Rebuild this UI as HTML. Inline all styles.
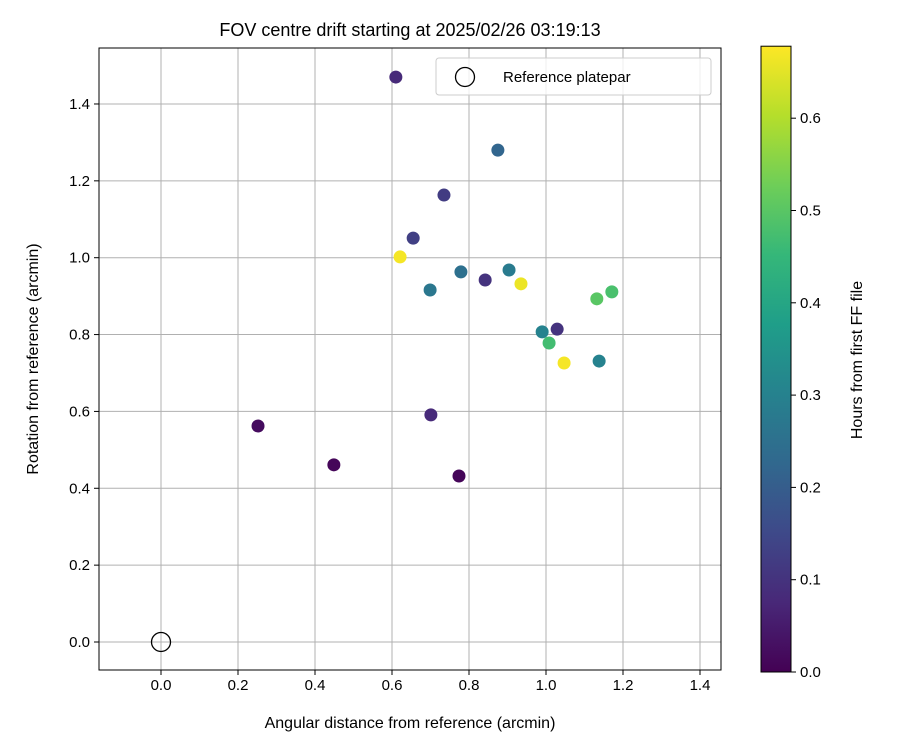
<!DOCTYPE html>
<html><head><meta charset="utf-8"><style>
body{margin:0;background:#fff}
svg text{font-family:"Liberation Sans","DejaVu Sans",sans-serif;fill:#000}
</style></head><body>
<svg id="c" width="900" height="750" xmlns="http://www.w3.org/2000/svg">
<defs><linearGradient id="vg" x1="0" y1="1" x2="0" y2="0">
<stop offset="0" stop-color="#440154"/><stop offset="0.1111" stop-color="#482878"/><stop offset="0.2222" stop-color="#3e4989"/><stop offset="0.3333" stop-color="#31688e"/><stop offset="0.4444" stop-color="#26828e"/><stop offset="0.5556" stop-color="#1f9e89"/><stop offset="0.6667" stop-color="#35b779"/><stop offset="0.7778" stop-color="#6ece58"/><stop offset="0.8889" stop-color="#b5de2b"/><stop offset="1" stop-color="#fde725"/></linearGradient></defs>
</svg>
<script>
const xVals=[0.610,0.875,0.735,0.655,0.621,0.779,0.904,0.699,0.842,0.935,1.132,1.171,0.990,1.029,1.008,1.047,1.138,0.701,0.252,0.449,0.774];
const yVals=[1.470,1.280,1.163,1.051,1.002,0.963,0.968,0.916,0.942,0.932,0.893,0.911,0.807,0.814,0.778,0.726,0.731,0.591,0.562,0.461,0.432];
const hours=[0.08,0.22,0.12,0.13,0.67,0.25,0.28,0.27,0.10,0.66,0.50,0.48,0.30,0.10,0.47,0.67,0.30,0.08,0.02,0.01,0.01];
const xTicks=[0.0,0.2,0.4,0.6,0.8,1.0,1.2,1.4];
const yTicks=[0.0,0.2,0.4,0.6,0.8,1.0,1.2,1.4];
const cTicks=[0.0,0.1,0.2,0.3,0.4,0.5,0.6];
const cMax=0.678;
const L=99,R=721,T=48,B=670;
const xs=v=>161+v*385, ys=v=>642-v*384.3;
const cs=v=>672-v*923;
const NS="http://www.w3.org/2000/svg", svg=document.getElementById('c');
function mk(t,a,p){const e=document.createElementNS(NS,t);for(const k in a)e.setAttribute(k,a[k]);(p||svg).appendChild(e);return e;}
const vir=["#440154","#482878","#3e4989","#31688e","#26828e","#1f9e89","#35b779","#6ece58","#b5de2b","#fde725"];
function hex(h){return [1,3,5].map(i=>parseInt(h.substr(i,2),16));}
function col(v){let t=Math.max(0,Math.min(1,v/cMax))*(vir.length-1);const i=Math.min(vir.length-2,Math.floor(t)),f=t-i;const a=hex(vir[i]),b=hex(vir[i+1]);return `rgb(${a.map((x,k)=>Math.round(x+(b[k]-x)*f)).join(',')})`;}
xTicks.forEach(v=>{const g=mk('line',{x1:xs(v),x2:xs(v),y1:T,y2:B,stroke:'#b0b0b0','stroke-width':1});


const tk=mk('line',{x1:xs(v),x2:xs(v),y1:B,y2:B+5,stroke:'#000'});


const t=mk('text',{x:xs(v),y:B+20,'text-anchor':'middle','font-size':15});t.textContent=v.toFixed(1);

});
yTicks.forEach(v=>{const g=mk('line',{x1:L,x2:R,y1:ys(v),y2:ys(v),stroke:'#b0b0b0','stroke-width':1});


const tk=mk('line',{x1:L-5,x2:L,y1:ys(v),y2:ys(v),stroke:'#000'});


const t=mk('text',{x:L-9,y:ys(v)+5,'text-anchor':'end','font-size':15});t.textContent=v.toFixed(1);

});
xVals.forEach((x,i)=>{const c=mk('circle',{cx:xs(x),cy:ys(yVals[i]),r:6.5,fill:col(hours[i])});

});
const ref=mk('circle',{cx:xs(0),cy:ys(0),r:9.5,fill:'none',stroke:'#000','stroke-width':1.3});


const fr=mk('rect',{x:L,y:T,width:R-L,height:B-T,fill:'none',stroke:'#000','stroke-width':1});


const lg=mk('g',{});


mk('rect',{x:436,y:58,width:275,height:37,rx:3,fill:'#fff','fill-opacity':0.8,stroke:'#ccc'},lg);
mk('circle',{cx:465,cy:77,r:9.5,fill:'none',stroke:'#000','stroke-width':1.3},lg);
const lt=mk('text',{x:503,y:82,'font-size':15},lg);lt.textContent='Reference platepar';
const ti=mk('text',{x:410,y:36,'text-anchor':'middle','font-size':18});ti.textContent='FOV centre drift starting at 2025/02/26 03:19:13';


const xt=mk('text',{x:410,y:728,'text-anchor':'middle','font-size':16});xt.textContent='Angular distance from reference (arcmin)';


const yt=mk('text',{x:38,y:359,'text-anchor':'middle','font-size':16,transform:'rotate(-90 38 359)'});yt.textContent='Rotation from reference (arcmin)';


const cb=mk('rect',{x:761,y:cs(cMax),width:30,height:672-cs(cMax),fill:'url(#vg)',stroke:'#000','stroke-width':1});


cTicks.forEach(v=>{const tk=mk('line',{x1:791,x2:796,y1:cs(v),y2:cs(v),stroke:'#000'});


const t=mk('text',{x:800,y:cs(v)+5,'font-size':15});t.textContent=v.toFixed(1);

});
const ct=mk('text',{x:862,y:360,'text-anchor':'middle','font-size':16,transform:'rotate(-90 862 360)'});ct.textContent='Hours from first FF file';


</script>
</body></html>
